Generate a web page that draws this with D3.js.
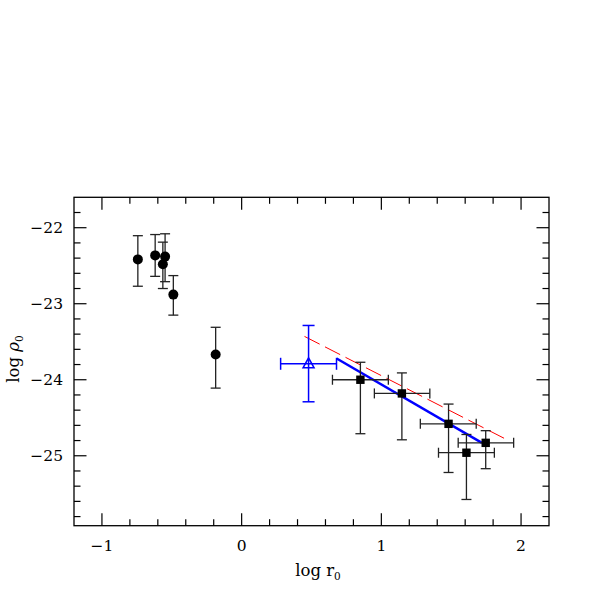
<!DOCTYPE html>
<html><head><meta charset="utf-8">
<script src="https://cdn.jsdelivr.net/npm/d3@7"></script>
<style>html,body{margin:0;padding:0;background:#fff;}svg{display:block;}</style>
</head><body>
<script>
// Circles (x, y, yLow, yHigh)
const circX = [-0.743, -0.619, -0.548, -0.564, -0.489, -0.186];
const circY = [-22.417, -22.364, -22.38, -22.48, -22.88, -23.667];
const circYlo = [-22.77, -22.64, -22.71, -22.80, -23.15, -24.11];
const circYhi = [-22.105, -22.09, -22.08, -22.19, -22.63, -23.31];
// Squares (x, y, xLow, xHigh, yLow, yHigh)
const sqX = [0.85, 1.147, 1.481, 1.609, 1.747];
const sqY = [-24.0, -24.18, -24.58, -24.96, -24.83];
const sqXlo = [0.65, 0.95, 1.279, 1.409, 1.55];
const sqXhi = [1.05, 1.347, 1.679, 1.809, 1.947];
const sqYlo = [-24.71, -24.79, -25.22, -25.575, -25.17];
const sqYhi = [-23.77, -23.91, -24.32, -24.72, -24.67];
// Triangle
const triX = [0.479];
const triY = [-23.79];
const triXlo = [0.279];
const triXhi = [0.679];
const triYlo = [-24.29];
const triYhi = [-23.286];
// Lines
const blueLineX = [0.68, 1.72];
const blueLineY = [-23.72, -24.83];
const redLineX = [0.45, 1.90];
const redLineY = [-23.43, -24.79];
// Ticks
const xMajor = [-1, 0, 1, 2];
const xMajorLabels = ["\u22121", "0", "1", "2"];
const yMajor = [-22, -23, -24, -25];
const yMajorLabels = ["\u221222", "\u221223", "\u221224", "\u221225"];

const W = 599, H = 599;
const L = 74, R = 549, T = 197.3, B = 525.7;
const x = d3.scaleLinear().domain([-1.2, 2.2]).range([L, R]);
const y = d3.scaleLinear().domain([-25.92, -21.6]).range([B, T]);

const svg = d3.select("body").append("svg").attr("width", W).attr("height", H);
const font = "'DejaVu Serif', 'Liberation Serif', serif";

// Frame
svg.append("rect").attr("x", L).attr("y", T).attr("width", R - L).attr("height", B - T)
  .attr("fill", "none").attr("stroke", "#000").attr("stroke-width", 1.3);

const ax = svg.append("g").attr("stroke", "#000").attr("stroke-width", 1.2);
const xMinor = d3.range(-1.2, 2.2001, 0.2).map(v => +v.toFixed(2));
xMinor.forEach(v => {
  const isMaj = Math.abs(v - Math.round(v)) < 1e-6;
  const len = isMaj ? 12.5 : 6.5;
  const px = x(v);
  if (px <= L + 0.5 || px >= R - 0.5) return;
  ax.append("line").attr("x1", px).attr("x2", px).attr("y1", B).attr("y2", B - len);
  ax.append("line").attr("x1", px).attr("x2", px).attr("y1", T).attr("y2", T + len);
});
const yMinor = d3.range(-25.8, -21.6, 0.2).map(v => +v.toFixed(2));
yMinor.forEach(v => {
  const isMaj = Math.abs(v - Math.round(v)) < 1e-6;
  const len = isMaj ? 12.5 : 6.5;
  const py = y(v);
  ax.append("line").attr("y1", py).attr("y2", py).attr("x1", L).attr("x2", L + len);
  ax.append("line").attr("y1", py).attr("y2", py).attr("x1", R).attr("x2", R - len);
});

// Tick labels
xMajor.forEach((v, i) => {
  svg.append("text").attr("x", x(v)).attr("y", 551).attr("text-anchor", "middle")
    .attr("font-family", font).attr("font-size", 15.5).text(xMajorLabels[i]);
});
yMajor.forEach((v, i) => {
  svg.append("text").attr("x", 63).attr("y", y(v) + 5.5).attr("text-anchor", "end")
    .attr("font-family", font).attr("font-size", 15.5).text(yMajorLabels[i]);
});

// Axis titles
const xt = svg.append("text").attr("x", 318).attr("y", 576).attr("text-anchor", "middle")
  .attr("font-family", font).attr("font-size", 16.5);
xt.append("tspan").text("log  r");
xt.append("tspan").attr("font-size", 10.5).attr("dy", 4).text("0");

const yt = svg.append("text").attr("transform", "translate(19,359) rotate(-90)")
  .attr("text-anchor", "middle").attr("font-family", font).attr("font-size", 16.5);
yt.append("tspan").text("log  ");
yt.append("tspan").attr("font-style", "italic").text("\u03c1");
yt.append("tspan").attr("font-size", 10.5).attr("dy", 4).text("0");

// Lines
const line = d3.line().x(d => x(d[0])).y(d => y(d[1]));
svg.append("path").datum(redLineX.map((v, i) => [v, redLineY[i]])).attr("d", line)
  .attr("fill", "none").attr("stroke", "#ff0000").attr("stroke-width", 1)
  .attr("stroke-dasharray", "17,6");
svg.append("path").datum(blueLineX.map((v, i) => [v, blueLineY[i]])).attr("d", line)
  .attr("fill", "none").attr("stroke", "#0000ff").attr("stroke-width", 2.5);

function vbar(g, xv, lo, hi, cap) {
  g.append("line").attr("x1", x(xv)).attr("x2", x(xv)).attr("y1", y(lo)).attr("y2", y(hi));
  [lo, hi].forEach(v => g.append("line").attr("x1", x(xv) - cap).attr("x2", x(xv) + cap)
    .attr("y1", y(v)).attr("y2", y(v)));
}
function hbar(g, yv, lo, hi, cap) {
  g.append("line").attr("y1", y(yv)).attr("y2", y(yv)).attr("x1", x(lo)).attr("x2", x(hi));
  [lo, hi].forEach(v => g.append("line").attr("y1", y(yv) - cap).attr("y2", y(yv) + cap)
    .attr("x1", x(v)).attr("x2", x(v)));
}

// Circles
const gc = svg.append("g").attr("stroke", "#222").attr("stroke-width", 1.3);
circX.forEach((v, i) => vbar(gc, v, circYlo[i], circYhi[i], 5));
circX.forEach((v, i) => svg.append("circle").attr("cx", x(v)).attr("cy", y(circY[i]))
  .attr("r", 5).attr("fill", "#000"));

// Squares
const gs = svg.append("g").attr("stroke", "#222").attr("stroke-width", 1.3);
sqX.forEach((v, i) => {
  vbar(gs, v, sqYlo[i], sqYhi[i], 5);
  hbar(gs, sqY[i], sqXlo[i], sqXhi[i], 5);
});
sqX.forEach((v, i) => svg.append("rect").attr("x", x(v) - 4.2).attr("y", y(sqY[i]) - 4.2)
  .attr("width", 8.4).attr("height", 8.4).attr("fill", "#000"));

// Triangle
const gt = svg.append("g").attr("stroke", "#0000ff").attr("stroke-width", 1.5).attr("fill", "none");
triX.forEach((v, i) => {
  vbar(gt, v, triYlo[i], triYhi[i], 6);
  hbar(gt, triY[i], triXlo[i], triXhi[i], 6);
  const cx = x(v), cy = y(triY[i]);
  gt.append("path").attr("d", `M${cx},${cy - 6}L${cx + 5.5},${cy + 4}L${cx - 5.5},${cy + 4}Z`);
});
</script>
</body></html>
